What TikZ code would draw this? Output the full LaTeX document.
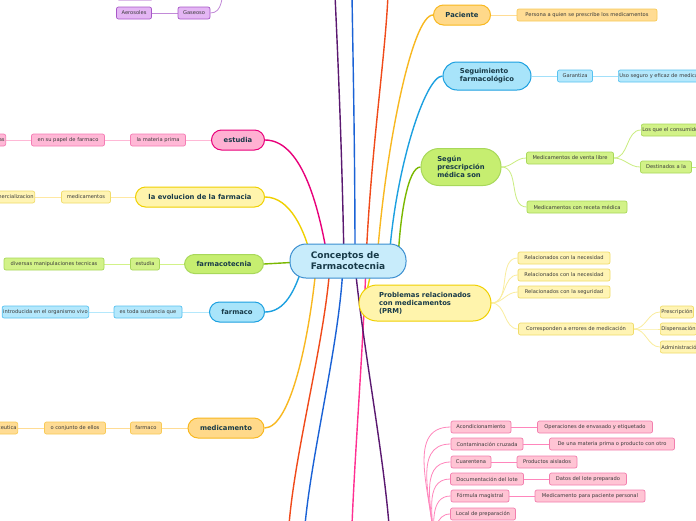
\documentclass[tikz,border=0pt]{standalone}
\usepackage{fontspec}
\newfontfamily\dv{DejaVu Sans}
\newcommand\subfnt{\dv\fontsize{5.15}{6.2}\selectfont}
\newcommand\mainfnt{\dv\bfseries\fontsize{6.8}{8}\selectfont}
\newcommand\cenfnt{\dv\bfseries\fontsize{9}{11}\selectfont}
\definecolor{subtxt}{HTML}{3A3A3A}
\definecolor{maintxt}{HTML}{183A48}
\definecolor{magL}{HTML}{E8007A}\definecolor{magF}{HTML}{FFB0D2}\definecolor{magS}{HTML}{FFB8D6}\definecolor{magB}{HTML}{F47CB4}
\definecolor{yelL}{HTML}{F0D000}\definecolor{yelF}{HTML}{FFF4AC}\definecolor{yelS}{HTML}{FFF4B4}\definecolor{yelB}{HTML}{F0DC6A}
\definecolor{grnL}{HTML}{7AB800}\definecolor{grnF}{HTML}{C6EE70}\definecolor{grnS}{HTML}{D2F288}\definecolor{grnB}{HTML}{A8D85A}
\definecolor{bluL}{HTML}{1CA0E0}\definecolor{bluF}{HTML}{A8E4FA}\definecolor{bluS}{HTML}{B4E8FC}\definecolor{bluB}{HTML}{58C2F0}
\definecolor{orgL}{HTML}{F8B820}\definecolor{orgF}{HTML}{FFD98A}\definecolor{orgS}{HTML}{FFDC94}\definecolor{orgB}{HTML}{F8CA56}
\definecolor{purS}{HTML}{E4B6F4}\definecolor{purB}{HTML}{A858C8}
\definecolor{pnkS}{HTML}{FFC4D4}\definecolor{pnkB}{HTML}{F27EAE}\definecolor{pnkL}{HTML}{FF86BC}
\definecolor{cenF}{HTML}{C8ECFB}\definecolor{cenB}{HTML}{3A8ED0}
\definecolor{lPur}{HTML}{5A1870}\definecolor{lBlu}{HTML}{1A62D6}\definecolor{lRed}{HTML}{F04A1A}\definecolor{lPnk}{HTML}{FF2F92}
\pgfdeclarelayer{bg}
\pgfsetlayers{bg,main}
\tikzset{
  sub/.style={draw, rounded corners=2pt, line width=0.7pt, minimum height=12pt, inner sep=1pt, font=\subfnt, text=subtxt},
  mainn/.style={draw, rounded corners=10pt, line width=1pt, minimum height=20pt, inner sep=2pt, font=\mainfnt, text=maintxt},
  big/.style={line width=1.4pt},
  thin/.style={line width=0.8pt},
  mag/.style={fill=magF, draw=magL}, magsub/.style={sub, fill=magS, draw=magB},
  yel/.style={fill=yelF, draw=yelL}, yelsub/.style={sub, fill=yelS, draw=yelB},
  grn/.style={fill=grnF, draw=grnB}, grnsub/.style={sub, fill=grnS, draw=grnB},
  blu/.style={fill=bluF, draw=bluL}, blusub/.style={sub, fill=bluS, draw=bluB},
  org/.style={fill=orgF, draw=orgL}, orgsub/.style={sub, fill=orgS, draw=orgB},
  pursub/.style={sub, fill=purS, draw=purB},
  pnksub/.style={sub, fill=pnkS, draw=pnkB},
}
\begin{document}
\begin{tikzpicture}[x=1pt,y=-1pt]
\useasboundingbox (0,0) rectangle (696,520);
\clip (0,0) rectangle (696,520);
\begin{pgfonlayer}{bg}
\fill[white] (0,0) rectangle (696,520);
\end{pgfonlayer}

% ---------- nodes ----------
\node[mainn, fill=cenF, draw=cenB, minimum width=116, minimum height=34, rounded corners=16pt, font=\cenfnt, align=left] (c) at (348,261) {Conceptos de\\Farmacotecnia};

% left main
\node[mainn, mag, minimum width=53] (estudia) at (238,140) {estudia};
\node[mainn, yel, minimum width=129] (evo) at (200,197) {la evolucion de la farmacia};
\node[mainn, grn, minimum width=79, minimum height=19] (ftec) at (224,264) {farmacotecnia};
\node[mainn, blu, minimum width=55] (farmaco) at (237,312) {farmaco};
\node[mainn, org, minimum width=76] (medic) at (226,428) {medicamento};

% left children
\node[magsub, minimum width=55] (e1) at (158,140) {la materia prima};
\node[magsub, minimum width=73] (e2) at (68,140) {en su papel de farmaco};
\node[magsub, anchor=east] (e3) at (6,140) {las sustancias};
\node[yelsub, minimum width=49] (v1) at (86,197) {medicamentos};
\node[yelsub, anchor=east] (v2) at (35,197) {comercializacion};
\node[grnsub, minimum width=29] (t1) at (145,264) {estudia};
\node[grnsub, minimum width=100] (t2) at (54,264) {diversas manipulaciones tecnicas};
\node[blusub, minimum width=68] (f1) at (148,312) {es toda sustancia que};
\node[blusub, anchor=east] (f2) at (89,312) {introducida en el organismo vivo};
\node[orgsub, minimum width=31] (m1) at (146,428) {farmaco};
\node[orgsub, minimum width=61] (m2) at (75,428) {o conjunto de ellos};
\node[orgsub, anchor=east] (m3) at (18,428) {farmaceutica};

% top-left purple
\node[pursub, minimum width=36] (p0) at (135,-6) {Gas};
\node[pursub, minimum width=35] (aer) at (134,13) {Aerosoles};
\node[pursub, minimum width=32] (gas) at (194,13) {Gaseoso};
\coordinate (gasP) at (224,-16);

% right main
\node[mainn, org, minimum width=57] (pac) at (462,15) {Paciente};
\node[orgsub, minimum width=140] (pac1) at (587,15) {Persona a quien se prescribe los medicamentos};
\node[mainn, blu, minimum width=88, minimum height=28, rounded corners=14pt, align=left] (seg) at (487,76) {Seguimiento\\farmacológico};
\node[blusub, minimum width=35] (seg1) at (575,76) {Garantiza};
\node[blusub, anchor=west] (seg2) at (618,76) {Uso seguro y eficaz de medicamentos};
\node[mainn, grn, minimum width=80, minimum height=37, rounded corners=18pt, align=left] (segun) at (461,167) {Según\\prescripción\\médica son};
\node[grnsub, minimum width=87] (g1) at (570,158) {Medicamentos de venta libre};
\node[grnsub, minimum width=100] (g2) at (577,207) {Medicamentos con receta médica};
\node[grnsub, anchor=west] (g11) at (641,130) {Los que el consumidor puede adquirir};
\node[grnsub, minimum width=51] (g12) at (666,167) {Destinados a la};
\coordinate (g12P) at (720,167);
\node[mainn, yel, minimum width=132, minimum height=36, rounded corners=18pt, align=left] (prm) at (425,303) {Problemas relacionados\\con medicamentos\\(PRM)};
\node[yelsub, minimum width=92] (r1) at (564,258) {Relacionados con la necesidad};
\node[yelsub, minimum width=92] (r2) at (564,275) {Relacionados con la necesidad};
\node[yelsub, minimum width=92] (r3) at (564,292) {Relacionados con la seguridad};
\node[yelsub, minimum width=115] (r4) at (576,329) {Corresponden a errores de medicación};
\node[yelsub, anchor=west] (r41) at (660,312) {Prescripción};
\node[yelsub, anchor=west] (r42) at (660,329) {Dispensación};
\node[yelsub, anchor=west] (r43) at (660,347) {Administración};

% bottom-right pink cluster
\coordinate (pk) at (434,548);
\node[pnksub, minimum width=60] (k1) at (481,427) {Acondicionamiento};
\node[pnksub, minimum width=115] (k1a) at (595,427) {Operaciones de envasado y etiquetado};
\node[pnksub, minimum width=72] (k2) at (487,444) {Contaminación cruzada};
\node[pnksub, minimum width=125] (k2a) at (612,444) {De una materia prima o producto con otro};
\node[pnksub, minimum width=40] (k3) at (471,462) {Cuarentena};
\node[pnksub, minimum width=60] (k3a) at (547,462) {Productos aislados};
\node[pnksub, minimum width=73] (k4) at (487,479) {Documentación del lote};
\node[pnksub, minimum width=77] (k4a) at (588,479) {Datos del lote preparado};
\node[pnksub, minimum width=58] (k5) at (480,496) {Fórmula magistral};
\node[pnksub, minimum width=110] (k5a) at (590,496) {Medicamento para paciente personal};
\node[pnksub, minimum width=65] (k6) at (483,514) {Local de preparación};
\node[pnksub, minimum width=60] (k7) at (481,531) {Material};

% far-off / hidden coordinates
\coordinate (tPur) at (335,-5);
\coordinate (tBlu) at (352,-5);
\coordinate (tRed) at (388,-5);
\coordinate (bRed) at (289,525);
\coordinate (bBlu) at (305,525);
\coordinate (bPur) at (389,525);
\coordinate (bPnk) at (352,525);

% ---------- connectors (behind) ----------
\begin{pgfonlayer}{bg}
% central branches, top
\draw[big, lPur] (344,261) .. controls (342,150) and (338,60) .. (tPur);
\draw[big, lBlu] (355,261) .. controls (355,150) and (353,60) .. (tBlu);
\draw[big, lRed] (366,261) .. controls (371,150) and (385,60) .. (tRed);
\draw[big, orgL] (377,261) .. controls (385,150) and (412,15) .. (pac.west);
\draw[big, bluL] (389,261) .. controls (395,170) and (425,76) .. (seg.west);
\draw[big, grnL] (398,261) .. controls (400,215) and (408,167) .. (segun.west);
\draw[big, yelL] (372,268) -- (366,295);
% left
\draw[big, magL] (328,261) .. controls (318,200) and (300,140) .. (estudia.east);
\draw[big, yelL] (312,261) .. controls (305,230) and (290,197) .. (evo.east);
\draw[big, grnL] (300,262) -- (ftec.east);
\draw[big, bluL] (302,268) .. controls (295,290) and (285,312) .. (farmaco.east);
\draw[big, orgL] (316,268) .. controls (310,330) and (292,428) .. (medic.east);
% bottom
\draw[big, lRed] (330,265) .. controls (325,340) and (295,450) .. (bRed);
\draw[big, lBlu] (343,265) .. controls (340,340) and (312,450) .. (bBlu);
\draw[big, lPnk] (366,265) .. controls (363,350) and (355,450) .. (bPnk);
\draw[big, lPur] (355,265) .. controls (362,340) and (383,450) .. (bPur);

% sub connectors left
\draw[thin, magS] (estudia.west) -- (e1.east) (e1.west) -- (e2.east) (e2.west) -- (e3.east);
\draw[thin, yelS!90!orange] (evo.west) -- (v1.east) (v1.west) -- (v2.east);
\draw[thin, grnS] (ftec.west) -- (t1.east) (t1.west) -- (t2.east);
\draw[thin, bluS] (farmaco.west) -- (f1.east) (f1.west) -- (f2.east);
\draw[thin, orgS] (medic.west) -- (m1.east) (m1.west) -- (m2.east) (m2.west) -- (m3.east);
% top-left purple
\draw[thin, purB!70] (aer.east) -- (gas.west);
\draw[thin, purB!70] (gas.east) to[out=0, in=-100] (gasP);
% sub connectors right
\draw[thin, orgS] (pac.east) -- (pac1.west);
\draw[thin, bluS!80!bluB] (seg.east) -- (seg1.west) (seg1.east) -- (seg2.west);
\draw[thin, grnS!80!grnB] (segun.east) to[out=0,in=180] (g1.west);
\draw[thin, grnS!80!grnB] (segun.east) to[out=0,in=180] (g2.west);
\draw[thin, grnS!80!grnB] (g1.east) to[out=0,in=180] (g11.west);
\draw[thin, grnS!80!grnB] (g1.east) to[out=0,in=180] (g12.west);
\draw[thin, grnS!80!grnB] (g12.east) -- (g12P);
\draw[thin, yelS!70!yelB] (prm.east) to[out=0,in=180] (r1.west);
\draw[thin, yelS!70!yelB] (prm.east) to[out=0,in=180] (r2.west);
\draw[thin, yelS!70!yelB] (prm.east) to[out=0,in=180] (r3.west);
\draw[thin, yelS!70!yelB] (prm.east) to[out=0,in=180] (r4.west);
\draw[thin, yelS!70!yelB] (r4.east) to[out=0,in=180] (r41.west);
\draw[thin, yelS!70!yelB] (r4.east) to[out=0,in=180] (r42.west);
\draw[thin, yelS!70!yelB] (r4.east) to[out=0,in=180] (r43.west);
% pink cluster
\foreach \k in {k1,k2,k3,k4,k5,k6,k7}{
  \draw[thin, pnkL] (pk) to[out=90,in=180] (\k.west);
}
\draw[thin, pnkL] (k1.east) -- (k1a.west) (k2.east) -- (k2a.west) (k3.east) -- (k3a.west)
  (k4.east) -- (k4a.west) (k5.east) -- (k5a.west);
\end{pgfonlayer}
\end{tikzpicture}
\end{document}
